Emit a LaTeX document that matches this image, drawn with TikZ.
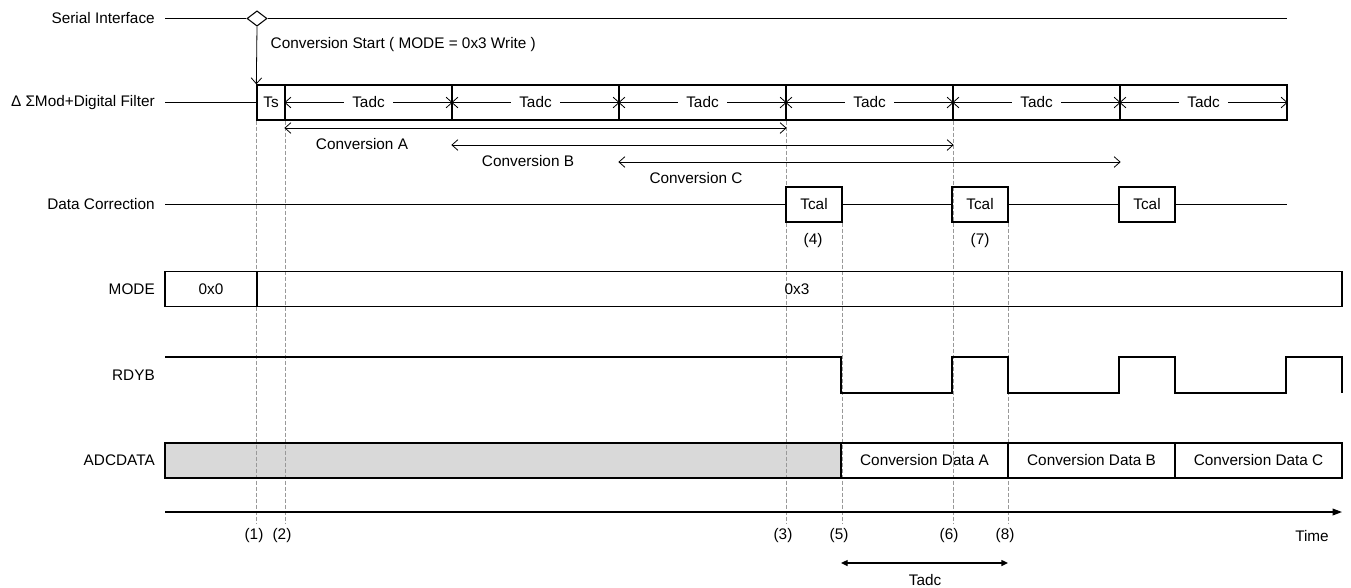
\documentclass[tikz,border=0pt]{standalone}
\usepackage{fontspec}
\setmainfont{Liberation Sans}
\usetikzlibrary{arrows.meta, positioning, calc, shapes.geometric}

\pgfdeclarelayer{shade}
\pgfdeclarelayer{guidelayer}
\pgfsetlayers{shade,guidelayer,main}

\tikzset{
	signal/.style={
			line width=1pt,
			draw=black
		},
	tbox/.style={
			draw=black,
			line width=1pt,
			inner sep=0pt,
			minimum height=26.25pt
		},
	databox/.style={
			tbox,
			minimum width=125.25pt
		},
	startmark/.style={
			diamond,
			draw=black,
			fill=white,
			line width=0.8pt,
			inner sep=0pt,
			minimum width=15pt,
			minimum height=11.5pt
		},
	guide/.style={
			draw=black!40,
			line width=0.6pt,
			dash pattern=on 3pt off 1.5pt
		},
	spanarrow/.style={
			line width=0.6pt,
			{Straight Barb[length=4.5pt,width=8pt]}-{Straight Barb[length=4.5pt,width=8pt]}
		},
	filledspan/.style={
			line width=1pt,
			{Triangle[length=5pt,width=4.5pt]}-{Triangle[length=5pt,width=4.5pt]}
		},
	rowlabel/.style={
			anchor=east,
			inner sep=0pt
		},
	celltext/.style={
			fill=white,
			inner xsep=6pt,
			inner ysep=2pt
		}
}

\begin{document}
\begin{tikzpicture}[x=0.75pt, y=-0.75pt, font=\fontsize{11.5}{13.5}\selectfont]
\useasboundingbox (0,0) rectangle (1351,587);

% row labels
\node[rowlabel] (lserial) at (155,18.5) {Serial Interface};
\node[rowlabel] (lfilter) at (155,102.5) {Δ ΣMod+Digital Filter};
\node[rowlabel] (lcorr) at (155,204.5) {Data Correction};
\node[rowlabel] (lmode) at (155,289) {MODE};
\node[rowlabel] (lrdyb) at (155,375) {RDYB};
\node[rowlabel] (ladc) at (155,460.5) {ADCDATA};

% serial interface
\node[startmark] (start) at (257,18.5) {};
\draw[signal] (165,18.5) -- (start.west);
\draw[signal] (start.east) -- (1287,18.5);
\node[anchor=west] (cstart) at (266,45) {Conversion Start ( MODE = 0x3 Write )};

% filter
\node[tbox, minimum width=21pt] (ts) at (271,102.5) {Ts};
\draw[signal] (165,102.5) -- (ts.west);
\draw[line width=0.6pt, -{Straight Barb[length=4.5pt,width=8pt]}] (start.south) -- (ts.north west);
\foreach \i in {1,...,6} {
  \node[databox] (cell\i) at ({368.5+167*(\i-1)},102.5) {};
  \draw[spanarrow] (cell\i.west) -- (cell\i.east) node[midway, celltext] {Tadc};
}

% conversions
\draw[spanarrow] ($(cell1.west)+(0,25.5)$) -- ($(cell3.east)+(0,25.5)$);
\draw[spanarrow] ($(cell2.west)+(0,42.5)$) -- ($(cell4.east)+(0,42.5)$);
\draw[spanarrow] ($(cell3.west)+(0,59.5)$) -- ($(cell5.east)+(0,59.5)$);
\node (convA) at (362,144) {Conversion A};
\node (convB) at (528,161) {Conversion B};
\node (convC) at (696,178) {Conversion C};

% data correction
\node[tbox, minimum width=42pt] (tcal1) at (814,204.5) {Tcal};
\node[tbox, minimum width=42pt] (tcal2) at (980,204.5) {Tcal};
\node[tbox, minimum width=42pt] (tcal3) at (1147,204.5) {Tcal};
\draw[signal] (165,204.5) -- (tcal1.west);
\draw[signal] (tcal1.east) -- (tcal2.west);
\draw[signal] (tcal2.east) -- (tcal3.west);
\draw[signal] (tcal3.east) -- (1287,204.5);
\node (n4) at (813,241) {(4)};
\node (n7) at (980,241) {(7)};

% mode
\node[tbox, minimum width=69pt] (mode0) at (211,289) {0x0};
\node[tbox, minimum width=813.75pt] (mode3) at (799.5,289) {};
\node (m3text) at (797,289) {0x3};

% rdyb
\draw[signal] (165,357) -- (841,357) -- (841,393) -- (952,393) -- (952,357)
  -- (1008,357) -- (1008,393) -- (1119,393) -- (1119,357) -- (1175,357)
  -- (1175,393) -- (1286,393) -- (1286,357) -- (1342,357) -- (1342,393);

% adcdata
\node[tbox, minimum width=507pt] (idle) at (503,460.5) {};
\begin{pgfonlayer}{shade}
  \fill[black!15] (idle.south west) rectangle (idle.north east);
\end{pgfonlayer}
\node[databox] (dataA) at (924.5,460.5) {Conversion Data A};
\node[databox] (dataB) at (1091.5,460.5) {Conversion Data B};
\node[databox] (dataC) at (1258.5,460.5) {Conversion Data C};

% time axis
\coordinate (t0) at (165,512);
\coordinate (tend) at (1342,512);
\draw[line width=1pt, -{Triangle[length=7pt,width=5pt]}] (t0) -- (tend);
\node (time) at (1312,536) {Time};

\node (m1) at (254,536) {(1)};
\node (m2) at (282,536) {(2)};
\node (m3) at (783,536) {(3)};
\node (m5) at (839,536) {(5)};
\node (m6) at (949,536) {(6)};
\node (m8) at (1005,536) {(8)};

% guides
\begin{pgfonlayer}{guidelayer}
\draw[guide] (ts.south west) -- (ts.south west |- m1.north);
\draw[guide] (ts.south east) -- (ts.south east |- m2.north);
\draw[guide] (cell3.south east) -- (cell3.south east |- m3.north);
\draw[guide] (tcal1.south east) -- (tcal1.south east |- m5.north);
\draw[guide] (cell4.south east) -- (cell4.south east |- m6.north);
\draw[guide] (tcal2.south east) -- (tcal2.south east |- m8.north);
\end{pgfonlayer}
\draw[signal] (mode0.north east) -- (mode0.south east);

% bottom span
\coordinate (sp0) at (841,563);
\coordinate (sp1) at (1008,563);
\draw[filledspan] (sp0) -- (sp1);
\node (tadc) at (925,580) {Tadc};
\end{tikzpicture}
\end{document}
